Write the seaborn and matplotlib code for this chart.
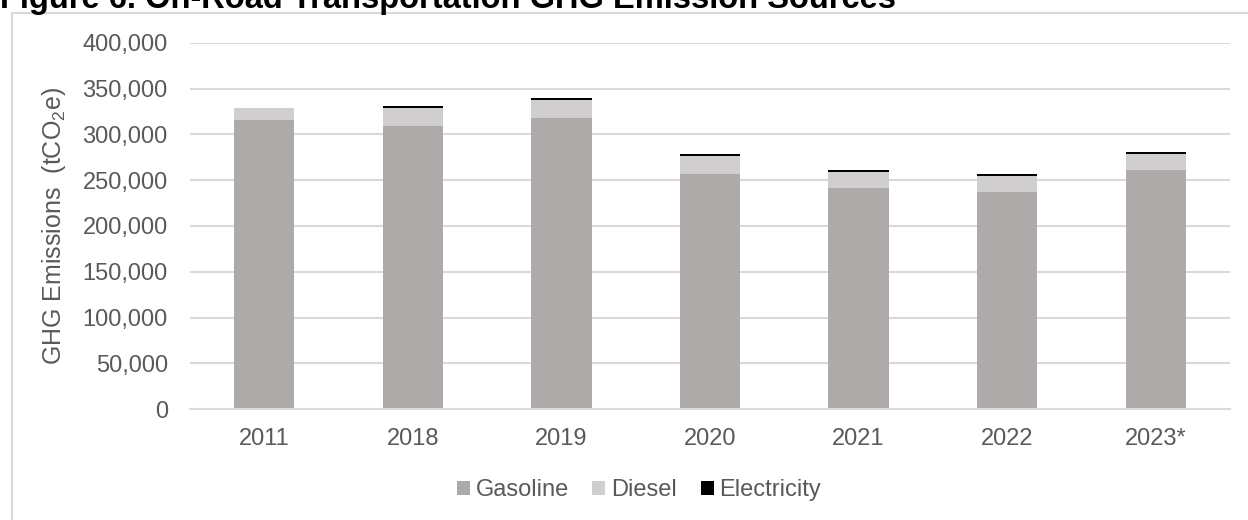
import matplotlib
matplotlib.use("Agg")
import matplotlib.pyplot as plt
import matplotlib.patches as mpatches
from matplotlib.ticker import FuncFormatter
import seaborn as sns
import pandas as pd

# On-road transportation emissions by fuel source (tCO2e)
years = ["2011", "2018", "2019", "2020", "2021", "2022", "2023*"]
gasoline = [315500, 309000, 317800, 256400, 241000, 236700, 260800]
diesel = [13300, 19800, 19700, 19800, 17600, 17500, 17600]
electricity = [0, 2000, 2200, 2200, 2200, 2200, 2200]

series_names = ["Gasoline", "Diesel", "Electricity"]
series_colors = ["#AEAAAA", "#D0CECE", "#000000"]

sns.set_theme(style="white")
plt.rcParams["font.family"] = ["Liberation Sans", "DejaVu Sans"]
plt.rcParams["mathtext.fontset"] = "custom"
plt.rcParams["mathtext.rm"] = "Liberation Sans"
plt.rcParams["mathtext.it"] = "Liberation Sans"

TXT = "#595959"
GRID = "#D9D9D9"
FS = 17

df = pd.DataFrame({"year": years, "gasoline": gasoline,
                   "diesel": diesel, "electricity": electricity})
df["cum_diesel"] = df["gasoline"] + df["diesel"]
df["cum_total"] = df["cum_diesel"] + df["electricity"]

fig = plt.figure(figsize=(12.48, 5.2), dpi=100)
ax = fig.add_axes([190 / 1248, 111 / 520, 1040 / 1248, 366 / 520])

# Stacked bars drawn as overlapping cumulative totals, top layer first
for col, color in [("cum_total", series_colors[2]),
                   ("cum_diesel", series_colors[1]),
                   ("gasoline", series_colors[0])]:
    sns.barplot(data=df, x="year", y=col, order=years, color=color,
                saturation=1, width=0.405, ax=ax, linewidth=0, zorder=3)

ax.set_ylim(0, 400000)
ax.set_xlim(-0.5, len(years) - 0.5)
ax.set_yticks(range(0, 400001, 50000))
ax.yaxis.set_major_formatter(FuncFormatter(lambda v, p: f"{int(v):,}"))
ax.yaxis.grid(True, color=GRID, linewidth=1.5, zorder=0)
ax.xaxis.grid(False)
for s in ["top", "right", "left"]:
    ax.spines[s].set_visible(False)
ax.spines["bottom"].set_color(GRID)
ax.spines["bottom"].set_linewidth(1.5)
ax.spines["bottom"].set_zorder(4)

ax.tick_params(axis="y", length=0, pad=16, labelsize=FS, labelcolor=TXT)
ax.tick_params(axis="x", length=0, pad=14, labelsize=FS, labelcolor=TXT)
ax.set_xlabel("")
ax.set_ylabel("GHG Emissions  (tCO$_2$e)", fontsize=18, color=TXT)
ax.yaxis.set_label_coords(-122 / 1040, 0.5)

handles = [mpatches.Patch(facecolor=c, edgecolor="none", label=n)
           for n, c in zip(series_names, series_colors)]
leg = fig.legend(handles=handles, loc="center", bbox_to_anchor=(639 / 1248, 1 - 490 / 520),
                 ncol=3, frameon=False, fontsize=FS, handlelength=0.55, handleheight=0.55,
                 handletextpad=0.25, columnspacing=1.0)
for t in leg.get_texts():
    t.set_color(TXT)

# Chart frame and heading
fig.patches.append(mpatches.Rectangle((12 / 1248, -0.1), 1.2, 1 - 13 / 520 + 0.1,
                                      transform=fig.transFigure, fill=False,
                                      edgecolor=GRID, linewidth=1.5))
fig.text(0 / 1248, 1 - 8 / 520, "Figure 6. On-Road Transportation GHG Emission Sources",
         fontsize=23.5, fontweight="bold", color="black", ha="left", va="baseline")

fig.savefig("out.png", dpi=100)
